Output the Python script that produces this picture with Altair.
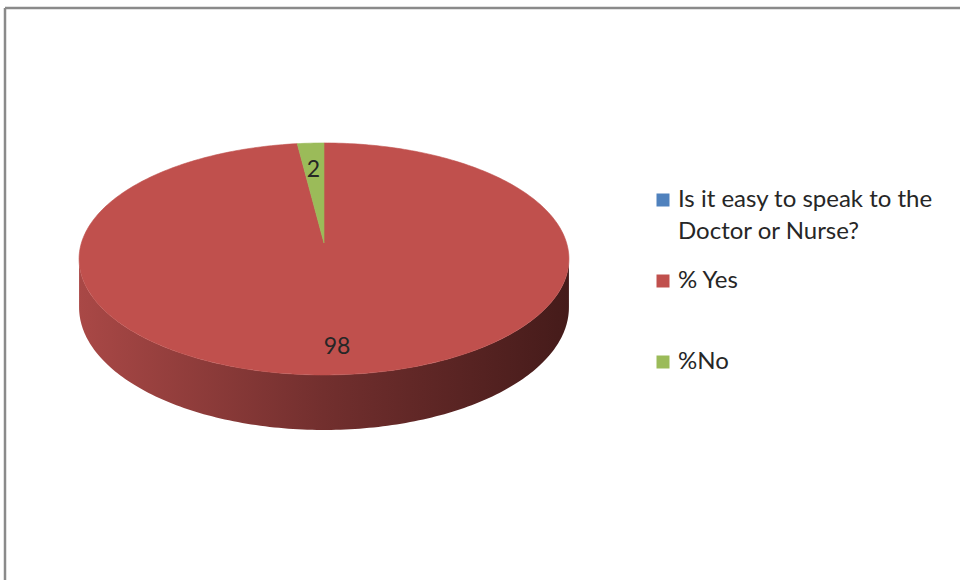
import altair as alt
import numpy as np
import pandas as pd

# ---------------- data ----------------
legend_entries = ["Is it easy to speak to the Doctor or Nurse?", "% Yes", "%No"]
legend_colors = ["#4f81bd", "#c0504d", "#9bbb59"]
slice_names = ["% Yes", "%No"]
slice_values = [98, 2]

# ---------------- layout (pixels) ----------------
W, H = 960, 580
CX, CY = 324, 243          # projected centre of the pie's top face
RX, RY = 242.6, 113.8      # radii of the top face
PERSP = 0.1377             # perspective foreshortening
DEPTH = 47.4               # thickness of the pie
LABEL_R = 0.77
STEP = 1.0                 # degrees per outline vertex


def project(theta_deg, r=1.0, z=0.0):
    t = np.radians(theta_deg)
    u = r * np.sin(t)
    v = r * np.cos(t)
    d = 1 + PERSP * v
    return CX + RX * u / d, CY - (RY * v - DEPTH * z) / d


# top-face slices (clockwise from 12 o'clock, as Excel does)
rows = []
total = float(sum(slice_values))
start = 0.0
label_rows = []
for name, val in zip(slice_names, slice_values):
    end = start + 360.0 * val / total
    n = max(2, int(np.ceil((end - start) / STEP)) + 1)
    thetas = np.linspace(start, end, n)
    pts = [(CX, CY)] + [project(t) for t in thetas] + [(CX, CY)]
    for i, (x, y) in enumerate(pts):
        rows.append({"cat": name, "x": x, "y": y, "i": i})
    mx, my = project((start + end) / 2, r=LABEL_R)
    label_rows.append({"x": mx, "y": my, "txt": str(val)})
    start = end
slices = pd.DataFrame(rows)
labels = pd.DataFrame(label_rows)

# visible side wall (front half between the silhouette points)
t_right = np.degrees(np.arccos(-PERSP))
t_left = 360 - t_right
front = np.linspace(t_right, t_left, 170)
side_pts = [project(t) for t in front] + [project(t, z=1.0) for t in front[::-1]]
side = pd.DataFrame([{"x": x, "y": y, "i": i} for i, (x, y) in enumerate(side_pts)])

xs = alt.Scale(domain=[0, W], nice=False, zero=False)
ys = alt.Scale(domain=[0, H], nice=False, zero=False, reverse=True)

side_grad = alt.Gradient(
    gradient="linear",
    x1=0, x2=1, y1=0, y2=0,
    stops=[
        alt.GradientStop(offset=0, color="#a94846"),
        alt.GradientStop(offset=0.5, color="#722f2e"),
        alt.GradientStop(offset=1, color="#451b1a"),
    ],
)

side_layer = alt.Chart(side).mark_line(fill=side_grad, strokeOpacity=0).encode(
    x=alt.X("x:Q", scale=xs, axis=None),
    y=alt.Y("y:Q", scale=ys, axis=None),
    order="i:Q",
)

wrap_lines = ["Is it easy to speak to the", "Doctor or Nurse?"]
label_expr = (
    "datum.label == '" + legend_entries[0] + "' ? ['" + wrap_lines[0] + "', '" + wrap_lines[1] + "'] : datum.label"
)

color_scale = alt.Scale(domain=legend_entries, range=legend_colors)

slice_layer = alt.Chart(slices).mark_line(strokeWidth=0.6).encode(
    x=alt.X("x:Q", scale=xs, axis=None),
    y=alt.Y("y:Q", scale=ys, axis=None),
    order="i:Q",
    fill=alt.Fill(
        "cat:N",
        scale=color_scale,
        legend=alt.Legend(
            title=None,
            orient="none",
            legendX=651,
            legendY=188,
            symbolType="square",
            symbolSize=169,
            symbolStrokeWidth=0,
            labelFont="Lato",
            labelFontSize=24,
            labelColor="#262626",
            labelLimit=400,
            labelOffset=3,
            labelExpr=label_expr,
            gridAlign="all",
            rowPadding=25,
        ),
    ),
    stroke=alt.Stroke("cat:N", scale=color_scale, legend=None),
)

text_layer = alt.Chart(labels).mark_text(
    font="Lato", fontSize=23, color="#262626", dy=6
).encode(
    x=alt.X("x:Q", scale=xs, axis=None),
    y=alt.Y("y:Q", scale=ys, axis=None),
    text="txt:N",
)

one = pd.DataFrame({"k": [0]})
border_left = alt.Chart(one).mark_rule(color="#8a8a8a", strokeWidth=2.5).encode(
    x=alt.value(5), y=alt.value(8), y2=alt.value(H)
)
border_top = alt.Chart(one).mark_rule(color="#8a8a8a", strokeWidth=2.5).encode(
    x=alt.value(5), x2=alt.value(W), y=alt.value(8)
)

chart = (
    alt.layer(side_layer, slice_layer, text_layer, border_left, border_top)
    .properties(width=W, height=H, padding=0, autosize=alt.AutoSizeParams(type="none"), background="white")
    .configure(style={"guide-label": {"lineHeight": 32}})
    .configure_view(strokeOpacity=0)
)

chart.save("out.html", embed_options={"renderer": "svg", "actions": False})
